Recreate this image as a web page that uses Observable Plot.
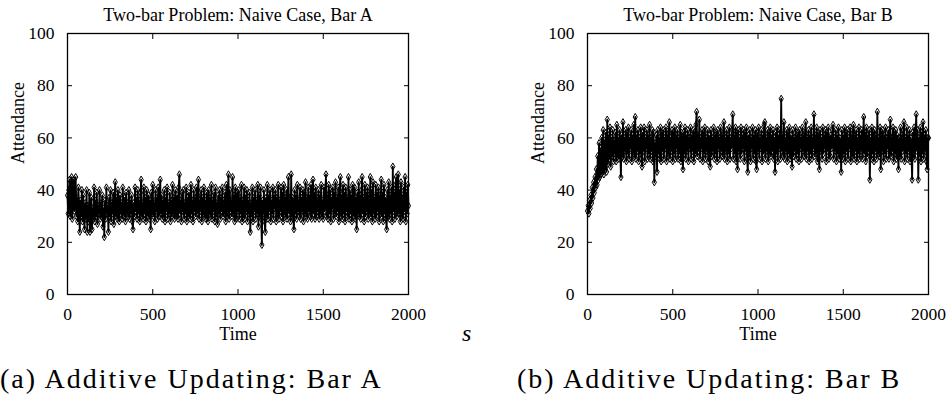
<!DOCTYPE html>
<html><head><meta charset="utf-8">
<script src="https://cdn.jsdelivr.net/npm/d3@7"></script>
<script src="https://cdn.jsdelivr.net/npm/@observablehq/plot@0.6"></script>
<style>
body{margin:0;background:#fff;}
#fig{position:relative;width:948px;height:396px;overflow:hidden;background:#fff;}
.panel{position:absolute;top:0;width:474px;height:350px;}
.cap{position:absolute;font-family:"Liberation Serif","Times New Roman",Times,serif;font-size:28px;letter-spacing:2px;white-space:nowrap;line-height:1;color:#000;}
.s{position:absolute;font-family:"Liberation Serif","Times New Roman",Times,serif;font-style:italic;font-size:24px;line-height:1;color:#000;}
</style></head><body>
<div id="fig"></div>
<script>
// sampling interval of the read-off series (time units)
const step = 4;

// Bar A attendance
const barA = [
38,31,40,44,30,36,45,29,41,44,
32,39,45,30,37,28,41,33,24,36,
30,40,28,38,31,25,35,29,40,24,
34,28,39,24,31,37,25,33,29,41,
28,36,30,39,27,34,31,40,29,35,
30,38,26,33,22,36,29,41,31,34,
24,37,30,40,28,35,31,39,27,36,
43,30,37,29,40,32,28,38,31,35,
29,41,33,30,37,28,39,31,35,30,
40,29,36,31,38,28,25,35,30,41,
32,37,29,40,31,36,28,39,44,30,
35,29,41,31,37,28,40,33,30,38,
29,36,25,39,31,42,30,35,28,40,
32,37,29,41,30,36,44,31,38,29,
36,30,40,28,37,32,41,29,35,31,
39,28,36,30,42,31,37,29,40,33,
30,38,29,41,46,31,36,28,39,32,
40,29,35,31,41,28,37,30,39,33,
29,42,31,36,28,40,32,37,30,41,
31,38,44,29,36,32,40,28,37,31,
41,30,36,29,39,33,28,40,31,37,
30,42,29,36,32,39,28,41,30,35,
27,38,31,40,29,37,32,41,30,36,
31,39,28,42,30,37,46,29,40,32,
36,30,45,31,38,28,41,33,29,39,
32,40,29,37,31,42,28,36,30,41,
29,38,32,40,28,36,31,39,24,35,
30,41,28,37,32,40,29,36,31,42,
26,38,30,41,29,19,36,31,40,28,
24,37,30,42,29,38,32,40,28,36,
31,41,29,38,33,40,28,37,30,42,
29,36,32,41,30,39,28,42,31,37,
30,40,29,38,45,31,36,28,46,30,
37,29,25,40,31,38,29,42,32,36,
30,41,29,37,32,40,28,39,31,43,
30,37,29,41,32,38,30,42,29,36,
44,31,39,29,41,30,37,32,40,29,
38,31,42,30,36,29,41,32,39,46,
30,38,29,42,31,40,28,37,33,41,
29,39,31,43,30,37,32,41,28,40,
45,30,38,29,42,31,39,28,41,32,
37,30,45,29,40,31,38,28,42,33,
30,41,29,37,25,39,31,43,30,38,
29,40,45,31,37,28,42,30,39,32,
41,29,38,31,45,30,40,28,43,31,
37,29,42,30,39,32,41,28,38,31,
44,30,39,28,42,31,37,29,25,40,
30,43,29,38,31,41,28,49,32,39,
29,42,45,30,37,46,31,40,28,43,
30,38,29,41,32,45,28,39,31,42,
34
];

// Bar B attendance
const barB = [
32,34,31,36,33,38,35,41,37,43,
39,45,41,48,42,53,44,58,45,56,
46,60,47,63,46,59,48,62,47,67,
50,61,52,64,49,60,53,63,51,59,
54,62,51,65,53,60,52,63,55,45,
61,53,66,52,60,55,63,51,62,54,
64,52,60,56,63,51,61,54,65,53,
68,52,61,55,63,51,60,54,64,52,
49,62,55,64,51,60,56,63,52,61,
54,65,52,60,55,63,51,62,43,58,
53,61,47,63,54,60,52,64,51,62,
55,63,52,60,56,64,51,61,53,62,
66,52,60,55,63,51,62,54,64,52,
61,56,63,52,60,54,65,51,62,55,
48,62,54,64,52,61,55,63,51,60,
56,64,52,61,55,63,51,62,54,65,
70,53,61,55,67,52,60,56,63,51,
62,54,64,52,60,55,63,51,61,56,
49,63,53,60,55,64,52,61,54,62,
51,63,56,60,52,64,55,61,53,62,
66,52,60,55,63,51,61,54,64,52,
60,56,63,69,52,61,54,64,51,62,
48,63,55,60,52,64,54,61,56,63,
51,62,55,64,52,47,61,53,63,51,
60,56,64,52,61,54,63,51,48,62,
55,64,52,60,56,63,51,61,54,65,
66,52,60,55,63,51,62,54,64,53,
61,55,63,52,60,47,62,54,64,51,
61,56,63,52,75,55,61,53,66,52,
60,55,63,51,62,54,64,52,61,56,
49,63,53,60,55,64,52,61,54,62,
51,63,56,60,52,64,55,61,53,62,
66,52,60,55,63,51,61,54,64,52,
60,56,69,53,61,54,64,51,62,55,
48,63,55,60,52,64,54,61,56,63,
51,62,55,64,52,60,53,61,56,63,
65,52,60,55,63,51,61,54,64,52,
60,56,47,63,52,61,54,64,51,62,
55,63,52,60,56,64,51,61,53,62,
65,52,61,55,63,51,60,54,64,52,
61,55,63,52,60,68,54,62,51,64,
53,61,55,63,44,60,52,64,54,62,
51,63,55,61,52,70,54,60,53,64,
48,62,55,63,51,61,54,64,52,60,
56,63,52,61,67,53,60,55,64,51,
62,54,63,52,61,55,48,60,53,64,
52,61,55,63,66,51,60,54,64,52,
61,55,63,51,60,54,44,62,53,64,
52,61,69,55,63,44,60,53,64,51,
62,54,66,52,61,55,63,51,48,60,
60
];

const xTicks = [0, 500, 1000, 1500, 2000];
const yTicks = [0, 20, 40, 60, 80, 100];
const xDomain = [0, 2000];
const yDomain = [0, 100];
const titles = ["Two-bar Problem: Naive Case, Bar A", "Two-bar Problem: Naive Case, Bar B"];
const captions = ["(a) Additive Updating: Bar A", "(b) Additive Updating: Bar B"];
const xLabel = "Time";
const yLabel = "Attendance";
const stray = "s";

function panel(values, title, marginLeft, marginRight) {
  const data = values.map((v, i) => ({t: i * step, v}));
  return Plot.plot({
    width: 474, height: 350,
    marginLeft, marginRight, marginTop: 33, marginBottom: 56,
    style: {fontFamily: "'Liberation Serif', 'Times New Roman', Times, serif", fontSize: "18px", color: "black", background: "transparent", overflow: "visible"},
    x: {domain: xDomain},
    y: {domain: yDomain},
    marks: [
      Plot.line(data, {x: "t", y: "v", stroke: "black", strokeWidth: 1.8}),
      Plot.dot(data, {x: "t", y: "v", symbol: "diamond", r: 2.2, stroke: "black", strokeWidth: 1, fill: "none"}),
      Plot.axisX({ticks: xTicks, tickSize: -5, tickPadding: 18, label: null, fontSize: 17.5, tickFormat: d => String(d)}),
      Plot.axisX({anchor: "top", ticks: xTicks, tickSize: -5, tickFormat: () => "", label: null}),
      Plot.axisY({ticks: yTicks, tickSize: -5, tickPadding: 18, label: null, fontSize: 17.5, tickFormat: d => String(d)}),
      Plot.axisY({anchor: "right", ticks: yTicks, tickSize: -5, tickFormat: () => "", label: null}),
      Plot.frame({stroke: "black", strokeWidth: 1.3}),
      Plot.text([title], {text: d => d, frameAnchor: "top", dy: -18, lineAnchor: "middle"}),
      Plot.text([xLabel], {text: d => d, frameAnchor: "bottom", dy: 40, lineAnchor: "middle"}),
      Plot.text([yLabel], {text: d => d, frameAnchor: "left", dx: -49, rotate: -90, lineAnchor: "middle"})
    ]
  });
}

const fig = document.getElementById("fig");
const specs = [
  {values: barA, left: 0, ml: 67, mr: 66, capLeft: 0},
  {values: barB, left: 474, ml: 113, mr: 20, capLeft: 517}
];
specs.forEach((s, k) => {
  const wrap = document.createElement("div");
  wrap.className = "panel";
  wrap.style.left = s.left + "px";
  wrap.appendChild(panel(s.values, titles[k], s.ml, s.mr));
  fig.appendChild(wrap);
  const cap = document.createElement("div");
  cap.className = "cap";
  cap.style.left = s.capLeft + "px";
  cap.style.top = "365px";
  cap.textContent = captions[k];
  fig.appendChild(cap);
});
const sDiv = document.createElement("div");
sDiv.className = "s";
sDiv.style.left = "462px";
sDiv.style.top = "321px";
sDiv.textContent = stray;
fig.appendChild(sDiv);
</script>
</body></html>
